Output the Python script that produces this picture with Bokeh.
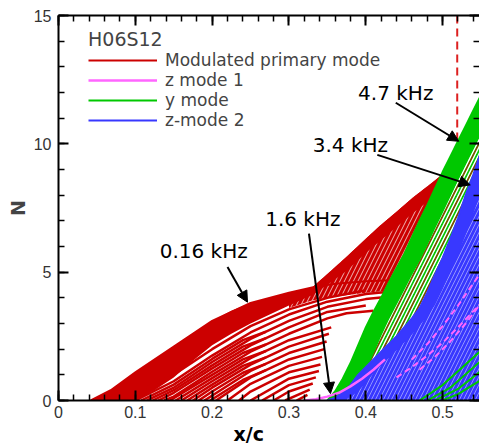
from bokeh.plotting import figure
from bokeh.models import (Range1d, LinearAxis, SingleIntervalTicker, Legend, LegendItem,
                          Arrow, NormalHead, Title, CustomJSTickFormatter)
from bokeh.core.properties import value
from bokeh.embed import file_html
from bokeh.resources import INLINE

RED = "#cc0000"
PINK = "#ff66ff"
GREEN = "#00c800"
BLUE = "#3838ff"

# ---------------- data ----------------
# Modulated primary mode (red) : upper envelope and dense band
RED_X = [0.042, 0.068, 0.1, 0.125, 0.15, 0.175, 0.2, 0.225, 0.25, 0.275, 0.3, 0.33,
         0.35, 0.375, 0.4, 0.418, 0.44, 0.461, 0.487, 0.52, 0.55]
RED_TOP = [0, 0.4, 1.1, 1.6, 2.1, 2.62, 3.1, 3.5, 3.8, 4.0, 4.2, 4.4,
           4.93, 5.6, 6.3, 6.8, 7.35, 7.9, 8.5, 9.3, 10.0]
RED_DENSE = [0, 0, 0, 0.4, 0.9, 1.55, 2.15, 2.6, 3.0, 3.35, 3.7, 4.1,
             4.5, 5.05, 5.75, 6.2, 6.75, 7.3, 7.9, 8.7, 9.4]
# crossing (meshed) red region right of x/c = 0.3
RED_MESH_X = [0.3, 0.33, 0.35, 0.375, 0.4, 0.418, 0.44, 0.461, 0.487, 0.52, 0.55]
RED_MESH_LO = [3.6, 3.9, 4.0, 4.1, 4.2, 4.25, 4.3, 4.35, 4.4, 4.45, 4.5]
RED_MESH_HI = [4.2, 4.4, 4.93, 5.6, 6.3, 6.8, 7.35, 7.9, 8.5, 9.3, 10.0]
# 0.16 kHz curve
R016_X = [0.042, 0.068, 0.1, 0.15, 0.2, 0.25, 0.3, 0.33, 0.36, 0.4, 0.45]
R016_N = [0, 0.4, 1.1, 2.1, 3.1, 3.8, 4.2, 4.4, 4.55, 4.65, 4.7]
# individual red curves (lower part)
RED_CURVES_X = [
    [0.085, 0.1, 0.15, 0.2, 0.25, 0.3, 0.35, 0.4],
    [0.10, 0.15, 0.2, 0.25, 0.3, 0.35, 0.4, 0.45],
    [0.1075, 0.15, 0.2, 0.24, 0.27],
    [0.115, 0.15, 0.2, 0.25, 0.3, 0.35, 0.4, 0.45],
    [0.1225, 0.15, 0.2, 0.24, 0.27],
    [0.13, 0.15, 0.2, 0.25, 0.3, 0.35, 0.4],
    [0.1375, 0.15, 0.2, 0.24, 0.27],
    [0.145, 0.2, 0.25, 0.3, 0.35, 0.375, 0.41],
    [0.1525, 0.2, 0.24, 0.27],
    [0.16, 0.2, 0.25, 0.3, 0.355],
    [0.1675, 0.2, 0.24, 0.27],
    [0.175, 0.2, 0.25, 0.3, 0.352],
    [0.1825, 0.2, 0.24, 0.27],
    [0.19, 0.25, 0.3, 0.349],
    [0.1975, 0.24, 0.27],
    [0.205, 0.25, 0.3, 0.346],
    [0.22, 0.25, 0.3, 0.343],
    [0.235, 0.25, 0.3, 0.341],
    [0.25, 0.3, 0.339],
    [0.265, 0.3, 0.335],
    [0.28, 0.3, 0.331],
    [0.295, 0.327],
    [0.31, 0.324],
]
RED_CURVES_N = [
    [0, 0.3, 1.0, 2.0, 2.9, 3.55, 4.0, 4.3],
    [0, 0.75, 1.75, 2.65, 3.35, 3.85, 4.15, 4.3],
    [0, 0.62, 1.62, 2.35, 2.68],
    [0, 0.5, 1.5, 2.4, 3.1, 3.65, 3.95, 4.1],
    [0, 0.4, 1.37, 2.1, 2.43],
    [0, 0.3, 1.25, 2.15, 2.85, 3.45, 3.7],
    [0, 0.15, 1.12, 1.85, 2.18],
    [0, 1.0, 1.9, 2.6, 3.2, 3.4, 3.5],
    [0, 0.87, 1.6, 1.93],
    [0, 0.75, 1.65, 2.35, 2.85],
    [0, 0.62, 1.35, 1.68],
    [0, 0.5, 1.4, 2.1, 2.6],
    [0, 0.35, 1.08, 1.43],
    [0, 1.15, 1.85, 2.3],
    [0, 0.8, 1.18],
    [0, 0.9, 1.6, 2.0],
    [0, 0.65, 1.35, 1.7],
    [0, 0.35, 1.1, 1.4],
    [0, 0.85, 1.15],
    [0, 0.6, 0.9],
    [0, 0.35, 0.66],
    [0, 0.42],
    [0, 0.22],
]

# y mode (green) and z-mode 2 (blue) on a common x/c grid
GB_X = [0.35, 0.36, 0.37, 0.38, 0.39, 0.40, 0.41, 0.42, 0.43, 0.44, 0.45,
        0.46, 0.47, 0.48, 0.49, 0.50, 0.51, 0.52, 0.53, 0.54, 0.55]
GREEN_EDGE = [0, 0.35, 0.85, 1.45, 2.15, 2.85, 3.45, 4.0, 4.6, 5.15, 5.7,
              6.35, 7.0, 7.6, 8.25, 8.9, 9.5, 10.1, 10.7, 11.3, 11.9]
GREEN_SOLID = [0, 0, 0, 0.17, 0.6, 1.15, 1.8, 2.5, 3.15, 3.72, 4.3,
               4.88, 5.43, 6.03, 6.68, 7.3, 7.93, 8.57, 9.2, 9.8, 10.4]
BLUE_EDGE = [0, 0.1, 0.3, 0.6, 1.0, 1.3, 1.6, 1.9, 2.2, 2.5, 2.85,
             3.2, 3.6, 4.2, 4.9, 5.55, 6.3, 7.1, 8.0, 8.8, 9.7]
BLUE_SOLID = [0, 0, 0, 0.14, 0.36, 0.68, 1.06, 1.36, 1.66, 1.96, 2.26,
              2.57, 2.92, 3.28, 3.72, 4.34, 5.03, 5.7, 6.46, 7.28, 8.16]

# z mode 1 (pink) curves
PINK_CURVES_X = [
    [0.32, 0.335, 0.35, 0.365, 0.38, 0.395, 0.41, 0.425],
    [0.46, 0.48, 0.5, 0.52, 0.55],
    [0.47, 0.49, 0.51, 0.53, 0.55],
    [0.44, 0.46, 0.48, 0.5, 0.52, 0.55],
]
PINK_CURVES_N = [
    [0, 0.05, 0.15, 0.3, 0.55, 0.85, 1.2, 1.6],
    [1.6, 2.2, 2.9, 3.7, 5.0],
    [1.2, 1.7, 2.3, 3.0, 3.8],
    [0.9, 1.3, 1.75, 2.25, 2.85, 3.8],
]
# late y-mode curves at the bottom right
GREEN_LOW_X = [[0.47, 0.5, 0.55], [0.48, 0.51, 0.55], [0.49, 0.52, 0.55], [0.5, 0.52, 0.55]]
GREEN_LOW_N = [[0, 0.6, 1.95], [0, 0.5, 1.55], [0, 0.45, 1.15], [0, 0.25, 0.8]]

DASH_X = [0.519]
DASH_Y0 = [0]
DASH_Y1 = [15]

LABEL_TEXT = ["4.7 kHz", "3.4 kHz", "1.6 kHz", "0.16 kHz"]
LABEL_X = [0.439, 0.380, 0.318, 0.189]
LABEL_Y = [12.0, 9.97, 7.08, 5.82]
ARROW_X0 = [0.439, 0.415, 0.326, 0.220]
ARROW_Y0 = [11.6, 9.57, 6.5, 5.2]
ARROW_X1 = [0.521, 0.536, 0.354, 0.246]
ARROW_Y1 = [10.1, 8.4, 0.27, 3.83]

LEGEND_LABELS = ["Modulated primary mode", "z mode 1", "y mode", "z-mode 2"]
X_MAX = 0.548
Y_MAX = 15

# ---------------- figure ----------------
p = figure(width=479, height=445, output_backend="svg", toolbar_location=None,
           x_range=Range1d(0, X_MAX), y_range=Range1d(0, Y_MAX),
           min_border_left=58, min_border_right=0, min_border_top=15, min_border_bottom=45)
p.grid.visible = False
p.outline_line_color = None
p.background_fill_color = "white"

# dashed reference line
p.segment(x0=DASH_X, y0=DASH_Y0, x1=DASH_X, y1=DASH_Y1, line_color="#dd2020",
          line_width=2, line_dash="8 5")

# red family
p.varea(x=RED_MESH_X, y1=RED_MESH_LO, y2=RED_MESH_HI, fill_color=RED,
        hatch_pattern="/", hatch_color="white", hatch_scale=9, hatch_weight=1, hatch_alpha=0.7)
p.varea(x=RED_X, y1=RED_DENSE, y2=RED_TOP, fill_color=RED)
p.multi_line(xs=RED_CURVES_X, ys=RED_CURVES_N, line_color=RED, line_width=2.5)
r_red = p.line(R016_X, R016_N, line_color=RED, line_width=2)

# green family
p.varea(x=GB_X, y1=[0] * len(GB_X), y2=GREEN_EDGE, fill_color=GREEN)
p.varea(x=GB_X, y1=BLUE_EDGE, y2=GREEN_SOLID, fill_color=GREEN,
        hatch_pattern="/", hatch_color="white", hatch_scale=7, hatch_weight=1.5)
p.varea(x=GB_X, y1=BLUE_EDGE, y2=GREEN_SOLID, fill_alpha=0,
        hatch_pattern="/", hatch_color=RED, hatch_scale=14, hatch_weight=1.2, hatch_alpha=0.8)
r_green = p.line(GB_X, GREEN_EDGE, line_color=GREEN, line_width=2)

# blue family
p.varea(x=GB_X, y1=[0] * len(GB_X), y2=BLUE_EDGE, fill_color=BLUE)
p.varea(x=GB_X, y1=[0] * len(GB_X), y2=BLUE_SOLID, fill_color=BLUE,
        hatch_pattern="/", hatch_color="white", hatch_scale=8, hatch_weight=1, hatch_alpha=0.45)
r_blue = p.line(GB_X, BLUE_EDGE, line_color=BLUE, line_width=2)

# pink and late green curves
r_pink = p.line(PINK_CURVES_X[0], PINK_CURVES_N[0], line_color=PINK, line_width=2.5)
p.multi_line(xs=PINK_CURVES_X[1:], ys=PINK_CURVES_N[1:], line_color=PINK, line_width=2,
             line_dash="6 4")
p.multi_line(xs=GREEN_LOW_X, ys=GREEN_LOW_N, line_color=GREEN, line_width=2)

# annotations
for i in range(len(LABEL_TEXT)):
    p.add_layout(Arrow(end=NormalHead(size=11, fill_color="black", line_color="black"),
                       x_start=ARROW_X0[i], y_start=ARROW_Y0[i],
                       x_end=ARROW_X1[i], y_end=ARROW_Y1[i],
                       line_color="black", line_width=2))
p.text(x=LABEL_X, y=LABEL_Y, text=LABEL_TEXT, text_align="center", text_baseline="middle",
       text_font=value("DejaVu Sans"), text_font_size="20px", text_color="black")

# ---------------- axes ----------------
xt = SingleIntervalTicker(interval=0.1, num_minor_ticks=5)
yt = SingleIntervalTicker(interval=5, num_minor_ticks=5)
blank = CustomJSTickFormatter(code="return ''")

def style_axis(ax, labels=True):
    ax.major_tick_in = 10
    ax.major_tick_out = 0
    ax.minor_tick_in = 6
    ax.minor_tick_out = 0
    ax.major_tick_line_width = 2
    ax.minor_tick_line_width = 1.5
    ax.axis_line_width = 2
    ax.major_tick_line_color = "black"
    ax.minor_tick_line_color = "black"
    ax.axis_line_color = "black"
    if labels:
        ax.major_label_text_font = "Liberation Sans"
        ax.major_label_text_font_size = "16px"
        ax.major_label_text_color = "#333333"
        ax.major_label_standoff = 7
    else:
        ax.formatter = blank
        ax.major_label_standoff = 0

xa = p.xaxis[0]
xa.ticker = xt
style_axis(xa)
xa.major_label_overrides = {0: "0"}
xa.major_label_standoff = 5

ya = p.yaxis[0]
ya.ticker = yt
style_axis(ya)
ya.axis_label = "N"
ya.axis_label_text_font = "DejaVu Sans"
ya.axis_label_text_font_size = "19px"
ya.axis_label_text_font_style = "bold"
ya.axis_label_standoff = 2

top = LinearAxis(ticker=xt)
style_axis(top, labels=False)
p.add_layout(top, "above")

right = LinearAxis(ticker=yt)
style_axis(right, labels=False)
right.axis_line_color = None
p.add_layout(right, "right")

# x/c axis title
p.add_layout(Title(text="x/c", align="left", offset=175, standoff=0,
                   text_font="DejaVu Sans", text_font_size="19px", text_font_style="bold",
                   text_color="black"), "below")

# ---------------- legend ----------------
legend = Legend(items=[LegendItem(label=LEGEND_LABELS[0], renderers=[r_red]),
                       LegendItem(label=LEGEND_LABELS[1], renderers=[r_pink]),
                       LegendItem(label=LEGEND_LABELS[2], renderers=[r_green]),
                       LegendItem(label=LEGEND_LABELS[3], renderers=[r_blue])],
                location=(30, 270), glyph_width=69, glyph_height=18, label_height=18,
                label_standoff=8, spacing=0, padding=0, margin=0,
                border_line_color=None, background_fill_alpha=0,
                label_text_font="DejaVu Sans", label_text_font_size="17px",
                title="H06S12", title_text_font="DejaVu Sans", title_text_font_size="19px",
                title_text_font_style="normal", title_standoff=0)
p.add_layout(legend)

open("out.html", "w").write(file_html(p, INLINE))
